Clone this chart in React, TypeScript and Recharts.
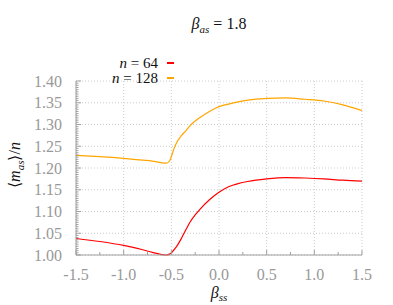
import React from "react";
import {
  LineChart,
  Line,
  XAxis,
  YAxis,
  CartesianGrid,
  Legend,
  Label,
} from "recharts";

// beta_ss sample points
const betaSS = [
  -1.5, -1.25, -1.0, -0.8, -0.7, -0.6, -0.55, -0.52, -0.5, -0.48, -0.45, -0.4,
  -0.35, -0.3, -0.25, -0.2, -0.1, 0, 0.1, 0.2, 0.3, 0.5, 0.7, 0.9, 1.1, 1.3, 1.5,
];
const n64 = [
  1.038, 1.031, 1.022, 1.012, 1.006, 1.001, 1.0, 1.002, 1.005, 1.01, 1.018,
  1.036, 1.057, 1.077, 1.092, 1.105, 1.127, 1.144, 1.157, 1.164, 1.169, 1.175,
  1.178, 1.177, 1.175, 1.172, 1.17,
];
const n128 = [
  1.229, 1.226, 1.222, 1.218, 1.216, 1.212, 1.211, 1.216, 1.226, 1.24, 1.256,
  1.273, 1.285, 1.298, 1.308, 1.316, 1.33, 1.341, 1.347, 1.352, 1.356, 1.36,
  1.361, 1.358, 1.354, 1.345, 1.332,
];

const xMajor = [-1.5, -1.0, -0.5, 0, 0.5, 1.0, 1.5];
const yMajor = [1.0, 1.05, 1.1, 1.15, 1.2, 1.25, 1.3, 1.35, 1.4];

const series = [
  { key: "n64", label: "64", color: "#ff0000" },
  { key: "n128", label: "128", color: "#ffa500" },
];

const data = betaSS.map((b, i) => ({ b, n64: n64[i], n128: n128[i] }));

// minor ticks: 0.25 on x, 0.005 on y
const xTicks: number[] = [];
for (let i = 0; i <= 12; i++) xTicks.push(-1.5 + i * 0.25);
const yTicks: number[] = [];
for (let i = 0; i <= 80; i++) yTicks.push(Math.round((1 + i * 0.005) * 1000) / 1000);

const SERIF = "Liberation Serif";
const GRAY = "#999999";
const AXIS = "#a0a0a0";

const near = (v: number, list: number[]) => list.some((m) => Math.abs(m - v) < 1e-6);

const XTick = (props: any) => {
  const { x, y, payload } = props;
  const major = near(payload.value, xMajor);
  return (
    <g>
      <line x1={x} y1={y} x2={x} y2={y - (major ? 5 : 3)} stroke={AXIS} />
      {major && (
        <text x={x} y={y + 25} textAnchor="middle" fill={GRAY} fontSize={16} fontFamily={SERIF}>
          {payload.value.toFixed(1)}
        </text>
      )}
    </g>
  );
};

const YTick = (props: any) => {
  const { x, y, payload } = props;
  const major = near(payload.value, yMajor);
  return (
    <g>
      <line x1={x} y1={y} x2={x + (major ? 5 : 2.5)} y2={y} stroke={AXIS} />
      {major && (
        <text x={x - 14} y={y + 5.5} textAnchor="end" fill={GRAY} fontSize={16} fontFamily={SERIF}>
          {payload.value.toFixed(2)}
        </text>
      )}
    </g>
  );
};

const LegendBox = () => (
  <div style={{ fontFamily: SERIF, fontSize: 15, lineHeight: "15px", color: "#111" }}>
    {series.map((s) => (
      <div key={s.key} style={{ display: "flex", alignItems: "center", justifyContent: "flex-end", height: 15 }}>
        <span>
          <i>n</i> = {s.label}
        </span>
        <span style={{ display: "inline-block", width: 7, height: 1.3, background: s.color, marginLeft: 9 }} />
      </div>
    ))}
  </div>
);

export default function App() {
  return (
    <div style={{ width: 393, height: 305 }}>
      <style>{"body{margin:0}"}</style>
      <LineChart width={393} height={305} data={data} margin={{ top: 51, right: 31, left: 0, bottom: 0 }}>
        <CartesianGrid
          stroke="#cccccc"
          strokeDasharray="1 2"
          horizontalValues={yMajor}
          verticalValues={xMajor}
        />
        <XAxis
          dataKey="b"
          type="number"
          domain={[-1.5, 1.5]}
          ticks={xTicks}
          interval={0}
          height={50}
          tickSize={0}
          tickMargin={0}
          tick={<XTick />}
          tickLine={false}
          stroke={AXIS}
        >
          <Label
            content={(p: any) => {
              const vb = p.viewBox;
              const cx = vb.x + vb.width / 2;
              return (
                <g fontFamily={SERIF} fontSize={16} fill="#111">
                  <text x={cx} y={vb.y + 42.5} textAnchor="middle">
                    <tspan fontStyle="italic">β</tspan>
                    <tspan fontStyle="italic" fontSize={11} dy={3.5}>ss</tspan>
                  </text>
                  <text x={cx} y={28.5} textAnchor="middle">
                    <tspan fontStyle="italic">β</tspan>
                    <tspan fontStyle="italic" fontSize={11} dy={4}>as</tspan>
                    <tspan dy={-4}> = 1.8</tspan>
                  </text>
                </g>
              );
            }}
          />
        </XAxis>
        <YAxis
          type="number"
          domain={[1.0, 1.4]}
          ticks={yTicks}
          interval={0}
          width={76}
          tickSize={0}
          tickMargin={0}
          tick={<YTick />}
          tickLine={false}
          stroke={AXIS}
        >
          <Label
            content={(p: any) => {
              const vb = p.viewBox;
              const cy = vb.y + vb.height / 2;
              return (
                <text
                  transform={`translate(20, ${cy - 3}) rotate(-90)`}
                  textAnchor="middle"
                  fontFamily={SERIF}
                  fontSize={16}
                  fill="#111"
                >
                  <tspan>⟨</tspan>
                  <tspan fontStyle="italic">m</tspan>
                  <tspan fontStyle="italic" fontSize={11} dy={4}>as</tspan>
                  <tspan dy={-4}>⟩/</tspan>
                  <tspan fontStyle="italic">n</tspan>
                </text>
              );
            }}
          />
        </YAxis>
        <Legend
          content={<LegendBox />}
          layout="vertical"
          align="center"
          verticalAlign="top"
          wrapperStyle={{ top: 55.5, left: 74, width: 100 }}
        />
        {series.map((s) => (
          <Line
            key={s.key}
            dataKey={s.key}
            type="monotone"
            stroke={s.color}
            strokeWidth={1.2}
            dot={false}
            isAnimationActive={false}
          />
        ))}
      </LineChart>
    </div>
  );
}
